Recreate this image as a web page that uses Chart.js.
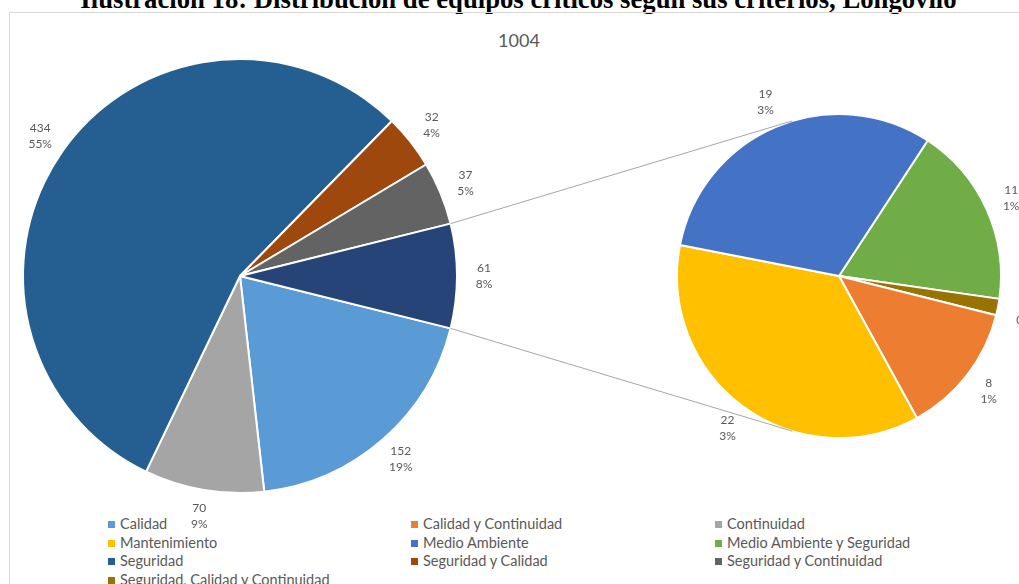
<!DOCTYPE html>
<html>
<head>
<meta charset="utf-8">
<script src="https://cdn.jsdelivr.net/npm/chart.js@4"></script>
<style>
  html, body { margin: 0; padding: 0; background: #fff; }
  #wrap { position: relative; width: 1019px; height: 584px; overflow: hidden; }
  #caption { position: absolute; left: 0; top: -14px; width: 1037px; text-align: center;
    font: bold 26.7px "Liberation Serif", "Times New Roman", serif; line-height: 26px; color: #000; white-space: nowrap; }
  #frame { position: absolute; left: 9px; top: 12px; width: 1100px; height: 700px; border: 1px solid #d9d9d9; }
  #total { position: absolute; left: 0; top: 29px; width: 1038px; text-align: center;
    font: 18px Lato, "Noto Sans", sans-serif; color: #595959; }
  canvas { position: absolute; left: 0; top: 0; }
  .lg { position: absolute; font: 14.5px Lato, "Noto Sans", sans-serif; color: #595959; white-space: nowrap; line-height: 18px; }
  .lg i { display: inline-block; width: 7px; height: 7px; margin-right: 5px; vertical-align: 1px; }
</style>
</head>
<body>
<div id="wrap">
  <div id="caption">Ilustración 18: Distribución de equipos críticos según sus criterios, Longovilo</div>
  <div id="frame"></div>
  <div id="total">1004</div>
  <div id="legend"></div>
  <canvas id="mainPie" width="1019" height="584"></canvas>
  <canvas id="subPie" width="1019" height="584"></canvas>
</div>
<script>
// main pie (last slice is the group split out into the second pie)
const mainLabels = ['Calidad', 'Continuidad', 'Seguridad', 'Seguridad y Calidad', 'Seguridad y Continuidad', 'Otros'];
const mainValues = [152, 70, 434, 32, 37, 61];
const mainPct = ['19%', '9%', '55%', '4%', '5%', '8%'];
const mainColors = ['#5B9BD5', '#A5A5A5', '#255E91', '#9E480E', '#636363', '#264478'];

// second pie
const subLabels = ['Medio Ambiente y Seguridad', 'Seguridad, Calidad y Continuidad', 'Calidad y Continuidad', 'Mantenimiento', 'Medio Ambiente'];
const subValues = [11, 1, 8, 22, 19];
const subPct = ['1%', '0%', '1%', '3%', '3%'];
const subColors = ['#70AD47', '#997300', '#ED7D31', '#FFC000', '#4472C4'];

// legend
const legendLabels = ['Calidad', 'Calidad y Continuidad', 'Continuidad', 'Mantenimiento', 'Medio Ambiente',
  'Medio Ambiente y Seguridad', 'Seguridad', 'Seguridad y Calidad', 'Seguridad y Continuidad',
  'Seguridad, Calidad y Continuidad'];
const legendColors = ['#5B9BD5', '#ED7D31', '#A5A5A5', '#FFC000', '#4472C4', '#70AD47', '#255E91',
  '#9E480E', '#636363', '#997300'];

const legendCols = [108, 411, 715];
const legend = document.getElementById('legend');
legendLabels.forEach((lab, i) => {
  const d = document.createElement('div');
  d.className = 'lg';
  d.style.left = legendCols[i % 3] + 'px';
  d.style.top = (515 + Math.floor(i / 3) * 18.5) + 'px';
  d.innerHTML = '<i style="background:' + legendColors[i] + '"></i>' + lab;
  legend.appendChild(d);
});

const labelFont = '12px Lato, "Noto Sans", sans-serif';

function outsideLabels(pctList) {
  return {
    id: 'outsideLabels',
    afterDatasetsDraw(chart) {
      const ctx = chart.ctx;
      const meta = chart.getDatasetMeta(0);
      const vals = chart.data.datasets[0].data;
      ctx.save();
      ctx.font = labelFont;
      ctx.fillStyle = '#595959';
      ctx.textAlign = 'center';
      ctx.textBaseline = 'middle';
      meta.data.forEach((arc, i) => {
        const p = arc.getProps(['x', 'y', 'startAngle', 'endAngle', 'outerRadius'], true);
        const a = (p.startAngle + p.endAngle) / 2;
        const r = p.outerRadius + 27;
        const x = p.x + Math.cos(a) * r;
        const y = p.y + Math.sin(a) * r;
        ctx.fillText(String(vals[i]), x, y - 8);
        ctx.fillText(pctList[i], x, y + 8);
      });
      ctx.restore();
    }
  };
}

const otherIdx = mainValues.length - 1;
const mainTotal = mainValues.reduce((s, v) => s + v, 0);

const mainChart = new Chart(document.getElementById('mainPie'), {
  type: 'pie',
  data: {
    labels: mainLabels,
    datasets: [{ data: mainValues, backgroundColor: mainColors, borderColor: '#fff', borderWidth: 2 }]
  },
  options: {
    responsive: false,
    animation: false,
    rotation: 90 + mainValues[otherIdx] / mainTotal * 180,
    layout: { padding: { left: 22, top: 58, right: 561, bottom: 90 } },
    plugins: { legend: { display: false }, tooltip: { enabled: false } }
  },
  plugins: [outsideLabels(mainPct)]
});

const connectors = {
  id: 'connectors',
  afterDraw(chart) {
    const arc = mainChart.getDatasetMeta(0).data[otherIdx];
    const m = arc.getProps(['x', 'y', 'startAngle', 'endAngle', 'outerRadius'], true);
    const s = chart.getDatasetMeta(0).data[0].getProps(['x', 'y', 'outerRadius'], true);
    const ctx = chart.ctx;
    ctx.save();
    ctx.strokeStyle = '#A6A6A6';
    ctx.lineWidth = 1;
    [[m.startAngle, -1], [m.endAngle, 1]].forEach(([ang, side]) => {
      const px = m.x + Math.cos(ang) * m.outerRadius;
      const py = m.y + Math.sin(ang) * m.outerRadius;
      const dx = px - s.x, dy = py - s.y;
      const d = Math.hypot(dx, dy);
      const base = Math.atan2(dy, dx);
      const t = base - side * Math.acos(s.outerRadius / d);
      ctx.beginPath();
      ctx.moveTo(px, py);
      ctx.lineTo(s.x + Math.cos(t) * s.outerRadius, s.y + Math.sin(t) * s.outerRadius);
      ctx.stroke();
    });
    ctx.restore();
  }
};

new Chart(document.getElementById('subPie'), {
  type: 'pie',
  data: {
    labels: subLabels,
    datasets: [{ data: subValues, backgroundColor: subColors, borderColor: '#fff', borderWidth: 2 }]
  },
  options: {
    responsive: false,
    animation: false,
    rotation: 33.2,
    layout: { padding: { left: 676, top: 113, right: 17, bottom: 145 } },
    plugins: { legend: { display: false }, tooltip: { enabled: false } }
  },
  plugins: [connectors, outsideLabels(subPct)]
});
</script>
</body>
</html>
